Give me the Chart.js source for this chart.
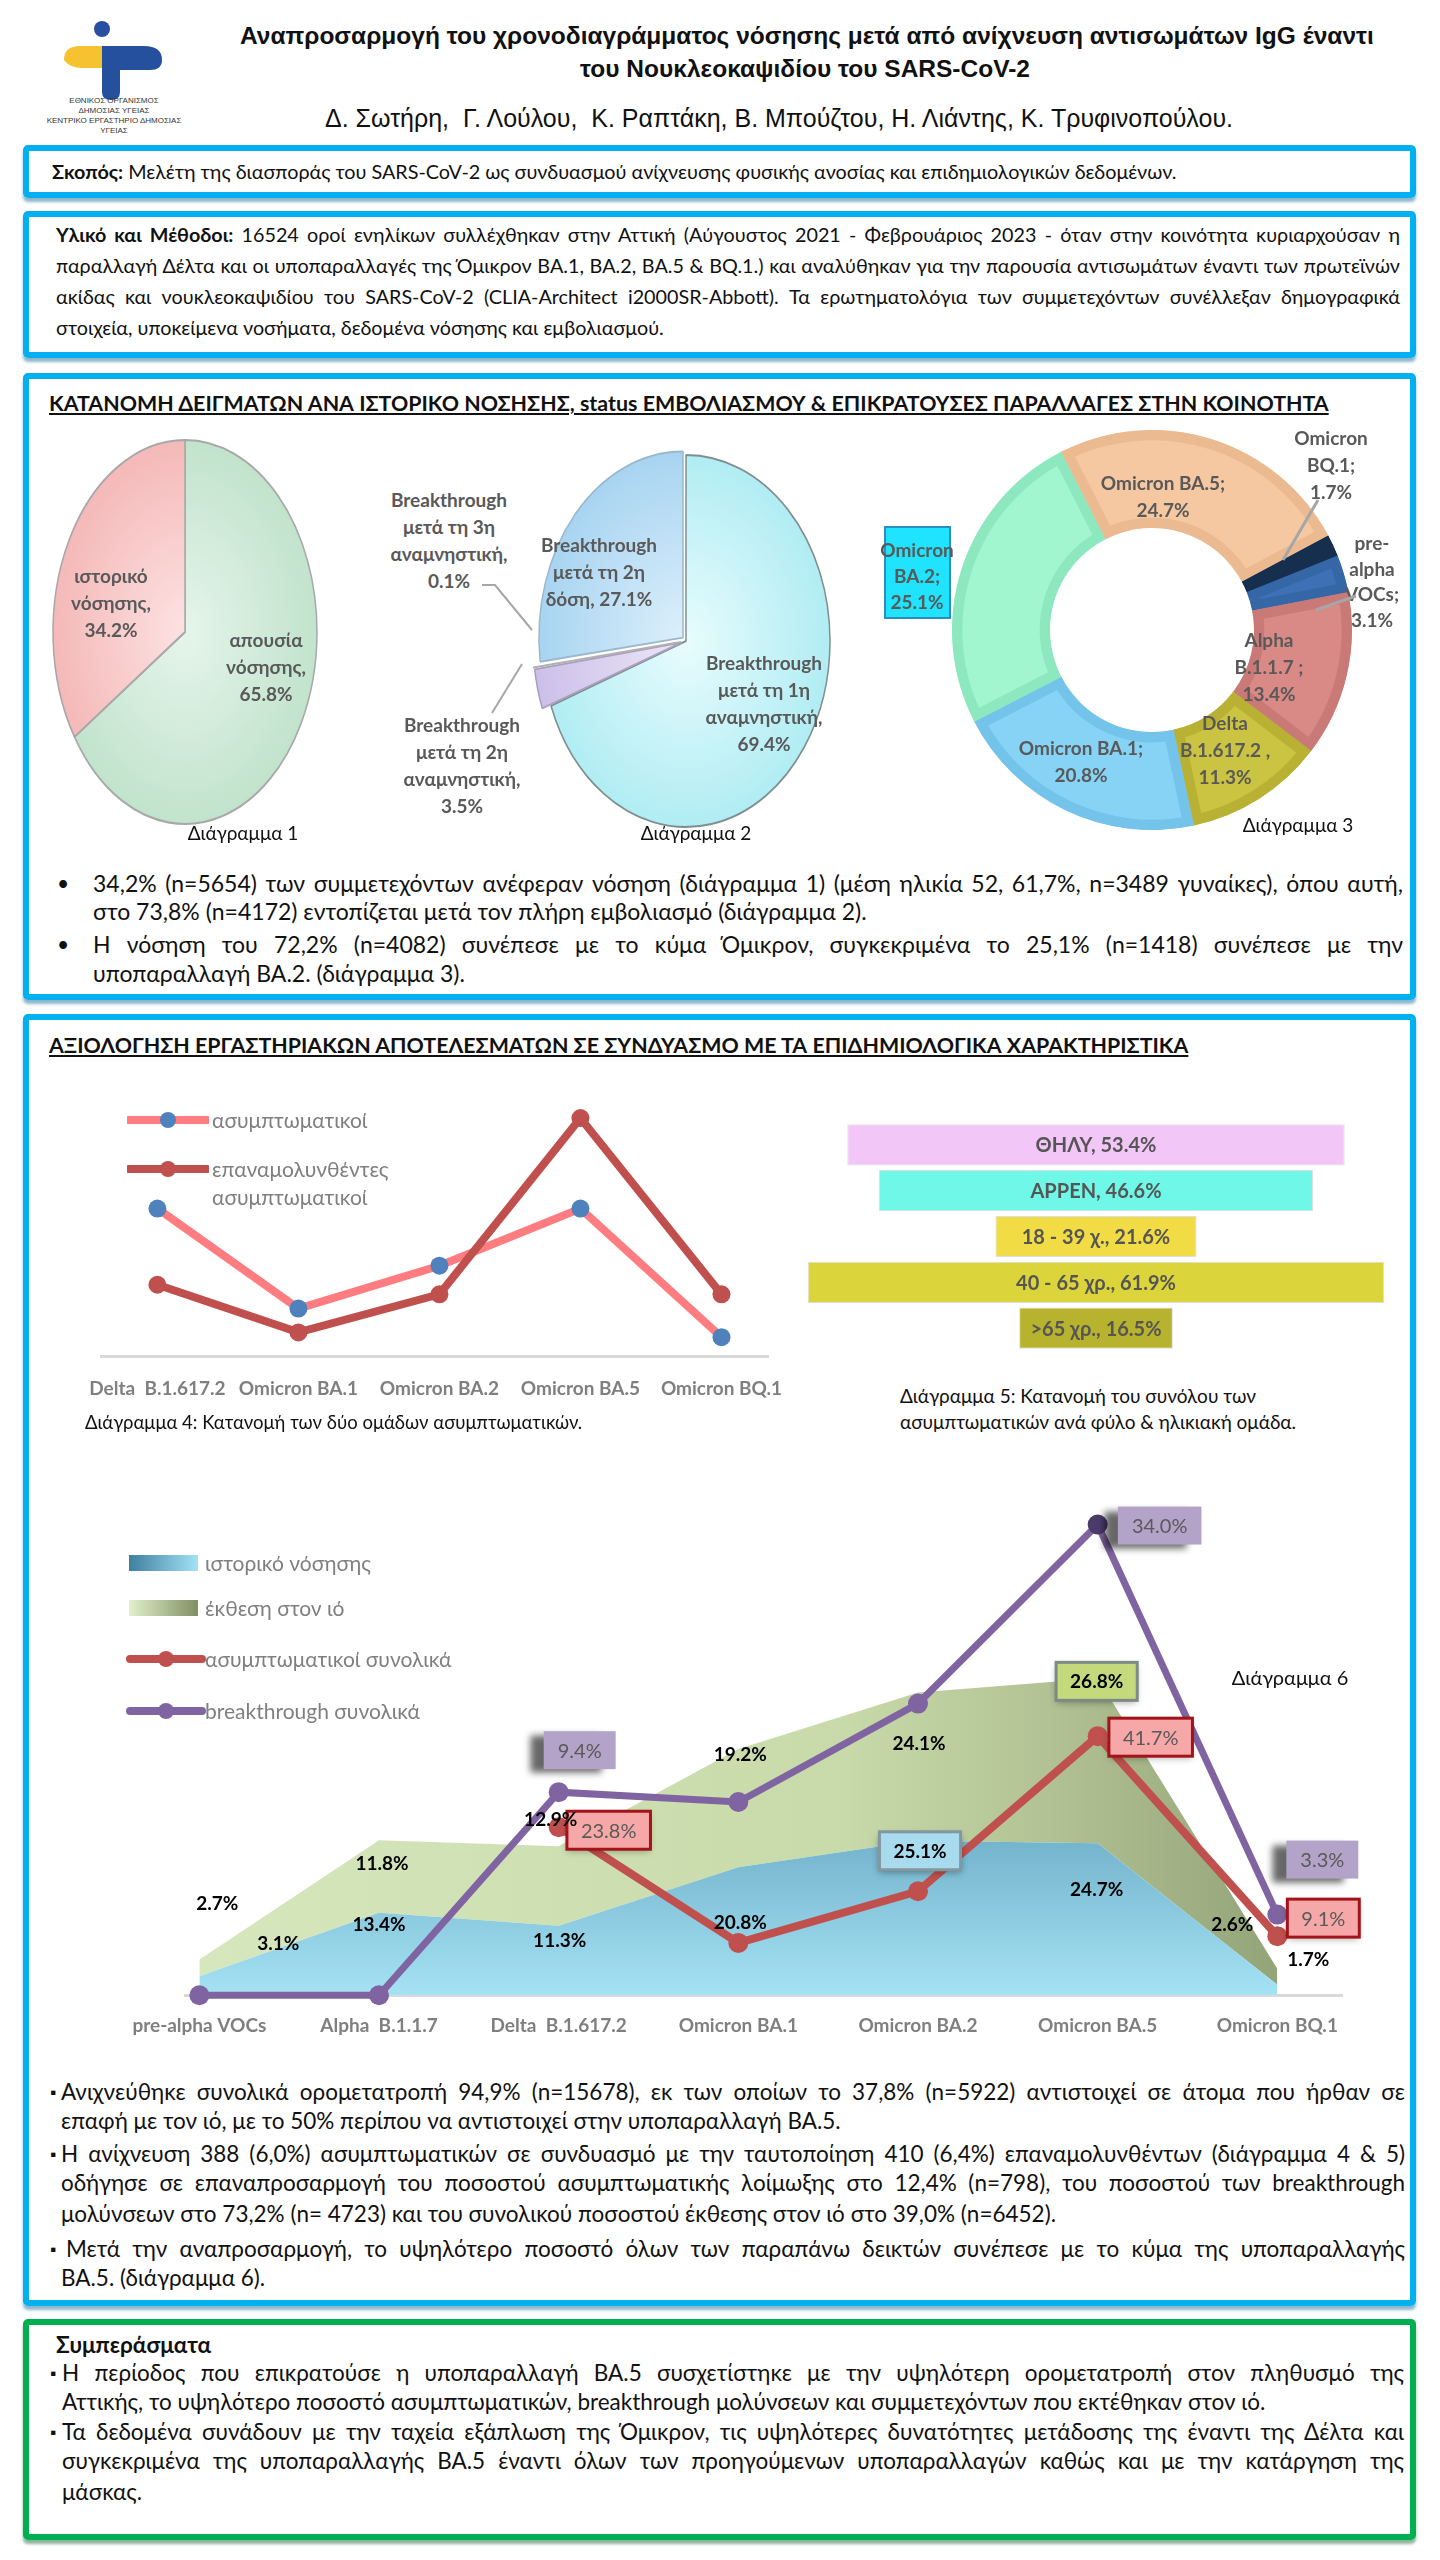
<!DOCTYPE html>
<html lang="el">
<head>
<meta charset="utf-8">
<title>Αναπροσαρμογή του χρονοδιαγράμματος νόσησης</title>
<script src="https://cdn.jsdelivr.net/npm/chart.js@4.4.1/dist/chart.umd.min.js"></script>
<style>
  html, body { margin: 0; padding: 0; background: #fff; }
  #poster { position: relative; width: 1440px; height: 2560px; overflow: hidden; font-family: Lato, Roboto, sans-serif; color: #111; }
  .abs { position: absolute; }
  canvas { position: absolute; }
  .box { position: absolute; left: 23px; width: 1393px; box-sizing: border-box; border: 6px solid #00b0f0; border-radius: 5px; box-shadow: 0 4px 3px rgba(0, 95, 140, .45); }
  .box.green { border-color: #00b050; box-shadow: 0 4px 3px rgba(0, 90, 40, .45); }
  .ln { position: absolute; font-size: 21px; line-height: 30px; height: 30px; white-space: normal; }
  .ln[data-g="b1"] { font-size: 19.8px; }
  .ln[data-g="b2"] { font-size: 20px; }
  .ln[data-g="b3"] { font-size: 23px; }
  .ln[data-g="b4"] { font-size: 22.5px; }
  .ln[data-g="b5"] { font-size: 22.5px; }
  .j { text-align: justify; text-align-last: justify; }
  .head { font-weight: bold; text-decoration: underline; font-size: 21.4px; white-space: nowrap; }
  .cap { position: absolute; font-size: 19px; line-height: 26px; color: #111; white-space: nowrap; }
  .lbl { position: absolute; transform: translateX(-50%); text-align: center; font-weight: bold; color: #595959; font-size: 19px; line-height: 27px; white-space: nowrap; }
  .lg { position: absolute; font-size: 21px; color: #7f7f7f; white-space: nowrap; line-height: 28px; }
  .title { position: absolute; font-family: "Liberation Sans", Arial, sans-serif; text-align: center; white-space: nowrap; }
  .dot { position: absolute; font-size: 21px; line-height: 30px; }
  .sq { position: absolute; font-size: 16px; line-height: 30px; }
</style>
</head>
<body>
<div id="poster">

  <!-- λογότυπο -->
  <svg class="abs" style="left:58px;top:18px" width="120" height="82" viewBox="0 0 120 82">
    <circle cx="44" cy="11" r="8" fill="#2a4fa1"/>
    <path d="M6 42 Q6 28 22 28 L44 28 L44 50 L24 50 Q12 50 6 42 Z" fill="#f5c230"/>
    <path d="M44 28 L86 28 Q104 28 104 42 Q104 52 92 52 L62 52 L62 74 Q62 82 53 82 Q44 82 44 74 Z" fill="#24509e"/>
  </svg>
  <div class="abs" style="left:44px;top:96px;width:140px;text-align:center;font:8px/10px 'Liberation Sans',sans-serif;color:#333;">ΕΘΝΙΚΟΣ ΟΡΓΑΝΙΣΜΟΣ<br>ΔΗΜΟΣΙΑΣ ΥΓΕΙΑΣ<br>ΚΕΝΤΡΙΚΟ ΕΡΓΑΣΤΗΡΙΟ ΔΗΜΟΣΙΑΣ ΥΓΕΙΑΣ</div>

  <div class="title" style="left:240px;top:22px;width:1130px;font-size:24.5px;font-weight:bold;line-height:28px;">Αναπροσαρμογή του χρονοδιαγράμματος νόσησης μετά από ανίχνευση αντισωμάτων IgG έναντι</div>
  <div class="title" style="left:240px;top:55px;width:1130px;font-size:24.5px;font-weight:bold;line-height:28px;">του Νουκλεοκαψιδίου του SARS-CoV-2</div>
  <div class="title" style="left:280px;top:104px;width:998px;font-size:25px;line-height:28px;">Δ. Σωτήρη,&nbsp; Γ. Λούλου,&nbsp; Κ. Ραπτάκη, Β. Μπούζτου, Η. Λιάντης, Κ. Τρυφινοπούλου.</div>

  <!-- Σκοπός -->
  <div class="box" style="top:145px;height:53px;"></div>
  <div class="ln" data-g="b1" style="left:52px;top:156px;width:1350px;"><b>Σκοπός:</b> Μελέτη της διασποράς του SARS-CoV-2 ως συνδυασμού ανίχνευσης φυσικής ανοσίας και επιδημιολογικών δεδομένων.</div>

  <!-- Υλικό και Μέθοδοι -->
  <div class="box" style="top:211px;height:147px;"></div>
  <div class="ln j" data-g="b2" style="left:56px;top:220px;width:1344px;"><b>Υλικό και Μέθοδοι:</b> 16524 οροί ενηλίκων συλλέχθηκαν στην Αττική (Αύγουστος 2021 - Φεβρουάριος 2023 - όταν στην κοινότητα κυριαρχούσαν η</div>
  <div class="ln j" data-g="b2" style="left:56px;top:251px;width:1344px;">παραλλαγή Δέλτα και οι υποπαραλλαγές της Όμικρον BA.1, BA.2, BA.5 &amp; BQ.1.) και αναλύθηκαν για την παρουσία αντισωμάτων έναντι των πρωτεϊνών</div>
  <div class="ln j" data-g="b2" style="left:56px;top:282px;width:1344px;">ακίδας και νουκλεοκαψιδίου του SARS-CoV-2 (CLIA-Architect i2000SR-Abbott). Τα ερωτηματολόγια των συμμετεχόντων συνέλλεξαν δημογραφικά</div>
  <div class="ln" data-g="b2" style="left:56px;top:313px;width:1344px;">στοιχεία, υποκείμενα νοσήματα, δεδομένα νόσησης και εμβολιασμού.</div>

  <!-- Κατανομή δειγμάτων -->
  <div class="box" style="top:373px;height:627px;"></div>
  <div class="ln head" style="left:49px;top:388px;">ΚΑΤΑΝΟΜΗ ΔΕΙΓΜΑΤΩΝ ΑΝΑ ΙΣΤΟΡΙΚΟ ΝΟΣΗΣΗΣ, status ΕΜΒΟΛΙΑΣΜΟΥ &amp; ΕΠΙΚΡΑΤΟΥΣΕΣ ΠΑΡΑΛΛΑΓΕΣ ΣΤΗΝ ΚΟΙΝΟΤΗΤΑ</div>

  <canvas id="pie1" width="300" height="410" style="left:35px;top:427px;"></canvas>
  <canvas id="pie2" width="350" height="430" style="left:511px;top:426px;"></canvas>
  <canvas id="donut" width="420" height="420" style="left:942px;top:420px;"></canvas>

  <svg class="abs" style="left:0;top:0;z-index:2" width="1440" height="1000">
    <polyline points="482,585 495,585 532,630" fill="none" stroke="#a6a6a6" stroke-width="2"/>
    <polyline points="492,713 522,664" fill="none" stroke="#a6a6a6" stroke-width="2"/>
    <polyline points="1318,500 1283,560" fill="none" stroke="#a6a6a6" stroke-width="3"/>
    <polyline points="1356,596 1316,610" fill="none" stroke="#a6a6a6" stroke-width="3"/>
  </svg>

  <div class="lbl" style="left:111px;top:562px;">ιστορικό<br>νόσησης,<br>34.2%</div>
  <div class="lbl" style="left:266px;top:626px;">απουσία<br>νόσησης,<br>65.8%</div>
  <div class="cap" style="left:243px;top:820px;transform:translateX(-50%);">Διάγραμμα 1</div>

  <div class="lbl" style="left:449px;top:486px;">Breakthrough<br>μετά τη 3η<br>αναμνηστική,<br>0.1%</div>
  <div class="lbl" style="left:599px;top:531px;">Breakthrough<br>μετά τη 2η<br>δόση, 27.1%</div>
  <div class="lbl" style="left:764px;top:649px;">Breakthrough<br>μετά τη 1η<br>αναμνηστική,<br>69.4%</div>
  <div class="lbl" style="left:462px;top:711px;">Breakthrough<br>μετά τη 2η<br>αναμνηστική,<br>3.5%</div>
  <div class="cap" style="left:696px;top:820px;transform:translateX(-50%);">Διάγραμμα 2</div>

  <div class="lbl" style="left:1163px;top:469px;">Omicron BA.5;<br>24.7%</div>
  <div class="lbl" style="left:1331px;top:424px;">Omicron<br>BQ.1;<br>1.7%</div>
  <div class="lbl" style="left:1372px;top:530px;line-height:25.5px;">pre-<br>alpha<br>VOCs;<br>3.1%</div>
  <div class="lbl" style="left:1269px;top:626px;">Alpha<br>B.1.1.7 ;<br>13.4%</div>
  <div class="lbl" style="left:1225px;top:709px;">Delta<br>B.1.617.2 ,<br>11.3%</div>
  <div class="lbl" style="left:1081px;top:734px;">Omicron BA.1;<br>20.8%</div>
  <div class="abs" style="left:884px;top:526px;width:67px;height:93px;box-sizing:border-box;background:#1fe3ff;border:2px solid #2a8fc0;"></div>
  <div class="lbl" style="left:917px;top:537px;line-height:26px;">Omicron<br>BA.2;<br>25.1%</div>
  <div class="cap" style="left:1298px;top:812px;transform:translateX(-50%);">Διάγραμμα 3</div>

  <div class="dot" style="left:57px;top:868px;">•</div>
  <div class="ln j" data-g="b3" style="left:93px;top:868px;width:1310px;">34,2% (n=5654) των συμμετεχόντων ανέφεραν νόσηση (διάγραμμα 1) (μέση ηλικία 52, 61,7%, n=3489 γυναίκες), όπου αυτή,</div>
  <div class="ln" data-g="b3" style="left:93px;top:896px;width:1310px;">στο 73,8% (n=4172) εντοπίζεται μετά τον πλήρη εμβολιασμό (διάγραμμα 2).</div>
  <div class="dot" style="left:57px;top:929px;">•</div>
  <div class="ln j" data-g="b3" style="left:93px;top:929px;width:1310px;">Η νόσηση του 72,2% (n=4082) συνέπεσε με το κύμα Όμικρον, συγκεκριμένα το 25,1% (n=1418) συνέπεσε με την</div>
  <div class="ln" data-g="b3" style="left:93px;top:958px;width:1310px;">υποπαραλλαγή ΒΑ.2. (διάγραμμα 3).</div>

  <!-- Αξιολόγηση -->
  <div class="box" style="top:1014px;height:1292px;"></div>
  <div class="ln head" style="left:49px;top:1030px;">ΑΞΙΟΛΟΓΗΣΗ ΕΡΓΑΣΤΗΡΙΑΚΩΝ ΑΠΟΤΕΛΕΣΜΑΤΩΝ ΣΕ ΣΥΝΔΥΑΣΜΟ ΜΕ ΤΑ ΕΠΙΔΗΜΙΟΛΟΓΙΚΑ ΧΑΡΑΚΤΗΡΙΣΤΙΚΑ</div>

  <canvas id="d4" width="807" height="331" style="left:31px;top:1090px;"></canvas>
  <svg class="abs" style="left:127px;top:1105px" width="82" height="80">
    <line x1="2" y1="15" x2="80" y2="15" stroke="#ff7c80" stroke-width="8" stroke-linecap="round"/>
    <circle cx="41" cy="15" r="8" fill="#4f81bd"/>
    <line x1="2" y1="64" x2="80" y2="64" stroke="#c0504d" stroke-width="8" stroke-linecap="round"/>
    <circle cx="41" cy="64" r="8" fill="#c0504d"/>
  </svg>
  <div class="lg" style="left:212px;top:1106px;">ασυμπτωματικοί</div>
  <div class="lg" style="left:212px;top:1155px;">επαναμολυνθέντες<br>ασυμπτωματικοί</div>
  <div class="cap" style="left:85px;top:1409px;font-size:18.5px;">Διάγραμμα 4: Κατανομή των δύο ομάδων ασυμπτωματικών.</div>

  <canvas id="d5" width="652" height="229" style="left:770px;top:1122px;"></canvas>
  <div class="cap" style="left:900px;top:1383px;">Διάγραμμα 5: Κατανομή του συνόλου των<br>ασυμπτωματικών ανά φύλο &amp; ηλικιακή ομάδα.</div>

  <canvas id="d6" width="1337" height="563" style="left:95px;top:1493px;"></canvas>
  <div class="abs" style="left:129px;top:1555px;width:69px;height:16px;background:linear-gradient(90deg,#3f7f9f,#a3e3f6);"></div>
  <div class="abs" style="left:129px;top:1600px;width:69px;height:16px;background:linear-gradient(90deg,#e1f0cc,#7f9062);"></div>
  <svg class="abs" style="left:126px;top:1645px" width="80" height="80">
    <line x1="4" y1="14" x2="76" y2="14" stroke="#c0504d" stroke-width="8" stroke-linecap="round"/>
    <circle cx="40" cy="14" r="8" fill="#c0504d"/>
    <line x1="4" y1="66" x2="76" y2="66" stroke="#8064a2" stroke-width="8" stroke-linecap="round"/>
    <circle cx="40" cy="66" r="8" fill="#8064a2"/>
  </svg>
  <div class="lg" style="left:205px;top:1549px;">ιστορικό νόσησης</div>
  <div class="lg" style="left:205px;top:1594px;">έκθεση στον ιό</div>
  <div class="lg" style="left:205px;top:1645px;">ασυμπτωματικοί συνολικά</div>
  <div class="lg" style="left:205px;top:1697px;">breakthrough συνολικά</div>
  <div class="cap" style="left:1290px;top:1664px;transform:translateX(-50%);font-size:20px;">Διάγραμμα 6</div>

  <div class="sq" style="left:50px;top:2077px;">▪</div>
  <div class="ln j" data-g="b4" style="left:61px;top:2077px;width:1344px;">Ανιχνεύθηκε συνολικά ορομετατροπή 94,9% (n=15678), εκ των οποίων το 37,8% (n=5922) αντιστοιχεί σε άτομα που ήρθαν σε</div>
  <div class="ln" data-g="b4" style="left:61px;top:2106px;width:1344px;">επαφή με τον ιό, με το 50% περίπου να αντιστοιχεί στην υποπαραλλαγή ΒΑ.5.</div>
  <div class="sq" style="left:50px;top:2139px;">▪</div>
  <div class="ln j" data-g="b4" style="left:61px;top:2139px;width:1344px;">Η ανίχνευση 388 (6,0%) ασυμπτωματικών σε συνδυασμό με την ταυτοποίηση 410 (6,4%) επαναμολυνθέντων (διάγραμμα 4 &amp; 5)</div>
  <div class="ln j" data-g="b4" style="left:61px;top:2168px;width:1344px;">οδήγησε σε επαναπροσαρμογή του ποσοστού ασυμπτωματικής λοίμωξης στο 12,4% (n=798), του ποσοστού των breakthrough</div>
  <div class="ln" data-g="b4" style="left:61px;top:2199px;width:1344px;">μολύνσεων στο 73,2% (n= 4723) και του συνολικού ποσοστού έκθεσης στον ιό στο 39,0% (n=6452).</div>
  <div class="sq" style="left:50px;top:2234px;">▪</div>
  <div class="ln j" data-g="b4" style="left:66px;top:2234px;width:1339px;">Μετά την αναπροσαρμογή, το υψηλότερο ποσοστό όλων των παραπάνω δεικτών συνέπεσε με το κύμα της υποπαραλλαγής</div>
  <div class="ln" data-g="b4" style="left:61px;top:2263px;width:1344px;">ΒΑ.5. (διάγραμμα 6).</div>

  <!-- Συμπεράσματα -->
  <div class="box green" style="top:2319px;height:221px;"></div>
  <div class="ln" data-g="b5" style="left:56px;top:2330px;font-weight:bold;">Συμπεράσματα</div>
  <div class="sq" style="left:50px;top:2358px;">▪</div>
  <div class="ln j" data-g="b5" style="left:62px;top:2358px;width:1342px;">Η περίοδος που επικρατούσε η υποπαραλλαγή ΒΑ.5 συσχετίστηκε με την υψηλότερη ορομετατροπή στον πληθυσμό της</div>
  <div class="ln" data-g="b5" style="left:62px;top:2387px;width:1342px;">Αττικής, το υψηλότερο ποσοστό ασυμπτωματικών, breakthrough μολύνσεων και συμμετεχόντων που εκτέθηκαν στον ιό.</div>
  <div class="sq" style="left:50px;top:2417px;">▪</div>
  <div class="ln j" data-g="b5" style="left:62px;top:2417px;width:1342px;">Τα δεδομένα συνάδουν με την ταχεία εξάπλωση της Όμικρον, τις υψηλότερες δυνατότητες μετάδοσης της έναντι της Δέλτα και</div>
  <div class="ln j" data-g="b5" style="left:62px;top:2446px;width:1342px;">συγκεκριμένα της υποπαραλλαγής ΒΑ.5 έναντι όλων των προηγούμενων υποπαραλλαγών καθώς και με την κατάργηση της</div>
  <div class="ln" data-g="b5" style="left:62px;top:2477px;width:1342px;">μάσκας.</div>
</div>

<script>
// Διάγραμμα 1: ιστορικό νόσησης
const pie1Labels = ['απουσία νόσησης', 'ιστορικό νόσησης'];
const pie1Values = [65.8, 34.2];

// Διάγραμμα 2: breakthrough ανά δόση
const pie2Labels = ['Breakthrough μετά τη 1η αναμνηστική', 'Breakthrough μετά τη 2η αναμνηστική', 'Breakthrough μετά τη 3η αναμνηστική', 'Breakthrough μετά τη 2η δόση'];
const pie2Values = [69.4, 3.5, 0.1, 27.1];

// Διάγραμμα 3: επικρατούσες παραλλαγές
const variantLabels = ['pre-alpha VOCs', 'Alpha B.1.1.7', 'Delta B.1.617.2', 'Omicron BA.1', 'Omicron BA.2', 'Omicron BA.5', 'Omicron BQ.1'];
const variantShares = [3.1, 13.4, 11.3, 20.8, 25.1, 24.7, 1.7];

// Διάγραμμα 4: ομάδες ασυμπτωματικών
const d4Cats = ['Delta  B.1.617.2', 'Omicron BA.1', 'Omicron BA.2', 'Omicron BA.5', 'Omicron BQ.1'];
const asymptomatic = [31, 10, 19, 31, 4];
const reinfected = [15, 5, 13, 50, 13];

// Διάγραμμα 5: φύλο & ηλικία
const groupLabels = ['ΘΗΛΥ', 'ΑΡΡΕΝ', '18 - 39 χ.', '40 - 65 χρ.', '>65 χρ.'];
const groupValues = [53.4, 46.6, 21.6, 61.9, 16.5];

// Διάγραμμα 6
const d6Cats = ['pre-alpha VOCs', 'Alpha  B.1.1.7', 'Delta  B.1.617.2', 'Omicron BA.1', 'Omicron BA.2', 'Omicron BA.5', 'Omicron BQ.1'];
const historyValues = [3.1, 13.4, 11.3, 20.8, 25.1, 24.7, 1.7];
const exposureValues = [2.7, 11.8, 12.9, 19.2, 24.1, 26.8, 2.6];
const asymTotal = [null, null, 27.3, 8.5, 16.9, 42.1, 9.6];
const breakthroughTotal = [0, 0, 33, 31.4, 47.4, 76.5, 13.1];
const asymTags = [null, null, '23.8%', null, null, '41.7%', '9.1%'];
const breakthroughTags = [null, null, '9.4%', null, null, '34.0%', '3.3%'];

const FONT = 'Lato, Roboto, sans-serif';
Chart.defaults.font.family = FONT;
Chart.defaults.animation = false;
Chart.defaults.responsive = false;
Chart.defaults.events = [];
Chart.defaults.plugins.legend.display = false;
Chart.defaults.plugins.tooltip.enabled = false;

// κάθε μπλοκ κειμένου: ίδιο μέγεθος, κάθε γραμμή σε μία σειρά
const groups = {};
document.querySelectorAll('.ln[data-g]').forEach(el => {
  (groups[el.dataset.g] = groups[el.dataset.g] || []).push(el);
});
Object.values(groups).forEach(list => {
  let fs = parseFloat(getComputedStyle(list[0]).fontSize);
  const over = () => list.some(el => el.scrollHeight > 34);
  while (over() && fs > 12) {
    fs -= 0.25;
    list.forEach(el => { el.style.fontSize = fs + 'px'; });
  }
});

const toXY = arr => arr.map((v, i) => ({ x: i, y: v }));
const pct = v => v.toFixed(1) + '%';

// πίτες σε έλλειψη
function squash(ratio) {
  return {
    id: 'squash',
    beforeDatasetsDraw(chart) {
      const a = chart.chartArea, ctx = chart.ctx;
      const cx = (a.left + a.right) / 2, cy = (a.top + a.bottom) / 2;
      ctx.save();
      ctx.translate(cx, cy);
      ctx.scale(1, ratio);
      ctx.translate(-cx, -cy);
    },
    afterDatasetsDraw(chart) { chart.ctx.restore(); }
  };
}

function radial(chart, inner, outer, r) {
  const a = chart.chartArea;
  if (!a) return outer;
  const cx = (a.left + a.right) / 2, cy = (a.top + a.bottom) / 2;
  const g = chart.ctx.createRadialGradient(cx, cy, 0, cx, cy, r);
  g.addColorStop(0, inner);
  g.addColorStop(1, outer);
  return g;
}

const pie1Colors = [['#e6f5eb', '#bfe2ca'], ['#fde2e2', '#f4b6b6']];
new Chart(document.getElementById('pie1'), {
  type: 'pie',
  data: {
    labels: pie1Labels,
    datasets: [{
      data: pie1Values,
      radius: 132,
      clip: false,
      backgroundColor: c => radial(c.chart, pie1Colors[c.dataIndex][0], pie1Colors[c.dataIndex][1], 140),
      borderColor: '#a8a8a8',
      borderWidth: 1.5
    }]
  },
  plugins: [squash(192 / 132)]
});

const pie2Colors = [['#e8fcfd', '#aeecf3'], ['#ece6f7', '#cbbfe8'], ['#ffffff', '#eeeeee'], ['#dceffb', '#a6d3f1']];
new Chart(document.getElementById('pie2'), {
  type: 'pie',
  data: {
    labels: pie2Labels,
    datasets: [{
      data: pie2Values,
      radius: 144,
      offset: [0, 20, 20, 16],
      clip: false,
      backgroundColor: c => radial(c.chart, pie2Colors[c.dataIndex][0], pie2Colors[c.dataIndex][1], 150),
      borderColor: ['#7f8f90', '#a9a0c0', '#b0b0b0', '#9ab8cc'],
      borderWidth: 1.5
    }]
  },
  plugins: [squash(186 / 144)]
});

new Chart(document.getElementById('donut'), {
  type: 'doughnut',
  data: {
    labels: variantLabels,
    datasets: [{
      data: variantShares,
      radius: 200,
      cutout: '51%',
      rotation: 68,
      backgroundColor: ['#3d70b4', '#d98a86', '#cbc342', '#87d3f6', '#a1f6cf', '#f6c8a2', '#1d3a60'],
      borderColor: ['#3566a6', '#c97a76', '#b9b134', '#74c3ea', '#8de8bf', '#ecba91', '#162f4f'],
      borderWidth: 10,
      borderAlign: 'inner'
    }]
  }
});

// Διάγραμμα 4
new Chart(document.getElementById('d4'), {
  type: 'line',
  data: {
    datasets: [
      { label: 'επαναμολυνθέντες ασυμπτωματικοί', data: toXY(reinfected), borderColor: '#c0504d', borderWidth: 8,
        pointRadius: 9, pointBackgroundColor: '#c0504d', pointBorderWidth: 0, clip: false, order: 0 },
      { label: 'ασυμπτωματικοί', data: toXY(asymptomatic), borderColor: '#ff7c80', borderWidth: 8,
        pointRadius: 9, pointBackgroundColor: '#4f81bd', pointBorderWidth: 0, clip: false, order: 1 }
    ]
  },
  options: {
    layout: { padding: { left: 70, right: 70, top: 0, bottom: 0 } },
    scales: {
      x: {
        type: 'linear', min: -0.4, max: 4.33, bounds: 'data',
        grid: { display: false, drawTicks: false },
        border: { display: true, color: '#d9d9d9', width: 3 },
        afterBuildTicks: s => { s.ticks = d4Cats.map((_, i) => ({ value: i })); },
        ticks: { padding: 21, color: '#7f7f7f', font: { size: 19, weight: 'bold' }, autoSkip: false, maxRotation: 0, callback: v => d4Cats[v] }
      },
      y: { display: false, min: 0, max: 54 }
    }
  }
});

// Διάγραμμα 5
const groupColors = ['#f3c6f8', '#6ff7e8', '#f2dc45', '#dcd43b', '#b8b32e'];
const funnelText = {
  id: 'funnelText',
  afterDatasetsDraw(chart) {
    const ctx = chart.ctx;
    const meta = chart.getDatasetMeta(0);
    ctx.save();
    ctx.font = 'bold 20px ' + FONT;
    ctx.fillStyle = '#555';
    ctx.textAlign = 'center';
    ctx.textBaseline = 'middle';
    meta.data.forEach((bar, i) => {
      const p = bar.getCenterPoint();
      ctx.fillText(groupLabels[i] + ', ' + pct(groupValues[i]), p.x, p.y + 1);
    });
    ctx.restore();
  }
};
new Chart(document.getElementById('d5'), {
  type: 'bar',
  data: {
    labels: groupLabels,
    datasets: [{
      data: groupValues.map(v => [-v / 2, v / 2]),
      backgroundColor: groupColors,
      borderColor: 'rgba(0,0,0,0.13)',
      borderWidth: 1,
      borderSkipped: false,
      barPercentage: 0.9,
      categoryPercentage: 1
    }]
  },
  options: {
    indexAxis: 'y',
    scales: { x: { display: false, min: -35, max: 35 }, y: { display: false } }
  },
  plugins: [funnelText]
});

// Διάγραμμα 6: ετικέτες τιμών
const tagStyles = {
  plain: { font: 'bold 19px ' + FONT, color: '#000' },
  blue: { font: 'bold 19px ' + FONT, color: '#000', fill: '#a9dbef', stroke: '#8397a0', line: 3, shadow: 'rgba(0,0,0,.35)', sx: 0, sy: 3 },
  green: { font: 'bold 19px ' + FONT, color: '#000', fill: '#c4d97b', stroke: '#7d8a86', line: 3, shadow: 'rgba(0,0,0,.35)', sx: 0, sy: 3 },
  purple: { font: '20px ' + FONT, color: '#595959', fill: '#b4a3c8', shadow: 'rgba(0,0,0,.6)', sx: -14, sy: 4 },
  red: { font: '20px ' + FONT, color: '#595959', fill: '#f6a8a8', stroke: '#a3131a', line: 3, shadow: 'rgba(0,0,0,.3)', sx: 0, sy: 3 }
};
const tagShift = {
  history: [[79, -33], [0, 11], [1, 14], [2, 55], [2, 10], [-1, 46], [31, -26]],
  exposure: [[18, -57], [3, 23], [-8, -27], [2, 5], [1, 50], [-1, 3], [-45, -45]],
  asym: [null, null, [50, 3], null, null, [53, 1], [46, -18]],
  breakthrough: [null, null, [21, -42], null, null, [62, 1], [45, -55]]
};
function drawTag(ctx, st, txt, x, y) {
  ctx.save();
  ctx.font = st.font;
  if (st.fill) {
    const w = ctx.measureText(txt).width + 28, h = 38;
    ctx.save();
    ctx.shadowColor = st.shadow;
    ctx.shadowBlur = 7;
    ctx.shadowOffsetX = st.sx;
    ctx.shadowOffsetY = st.sy;
    ctx.fillStyle = st.fill;
    ctx.fillRect(x - w / 2, y - h / 2, w, h);
    ctx.restore();
    if (st.stroke) {
      ctx.strokeStyle = st.stroke;
      ctx.lineWidth = st.line;
      ctx.strokeRect(x - w / 2, y - h / 2, w, h);
    }
  }
  ctx.fillStyle = st.color;
  ctx.textAlign = 'center';
  ctx.textBaseline = 'middle';
  ctx.fillText(txt, x, y + 1);
  ctx.restore();
}
const tagPlugin = {
  id: 'tags',
  afterDatasetsDraw(chart) {
    // boxed tags first, plain numbers on top
    ['boxed', 'plain'].forEach(pass => {
      chart.data.datasets.forEach((ds, di) => {
        if (!ds.tags) return;
        const meta = chart.getDatasetMeta(di);
        ds.tags.forEach((txt, i) => {
          if (txt == null) return;
          const st = tagStyles[ds.tagStyle[i]];
          if ((pass === 'plain') !== !st.fill) return;
          const pt = meta.data[i];
          const [dx, dy] = tagShift[ds.tagKey][i];
          drawTag(chart.ctx, st, txt, pt.x + dx, pt.y + dy);
        });
      });
    });
  }
};

function blueFill(c) {
  const { chart } = c;
  if (!chart.chartArea) return '#8fcbe0';
  const y = chart.scales.y;
  const g = chart.ctx.createLinearGradient(0, y.getPixelForValue(26), 0, y.getPixelForValue(0));
  g.addColorStop(0, '#72b2cb');
  g.addColorStop(1, '#a5e2f4');
  return g;
}
function greenFill(c) {
  const { chart } = c;
  if (!chart.chartArea) return '#c9dcab';
  const x = chart.scales.x;
  const g = chart.ctx.createLinearGradient(x.getPixelForValue(0), 0, x.getPixelForValue(6), 0);
  g.addColorStop(0, '#d6e7bd');
  g.addColorStop(0.6, '#c8daa9');
  g.addColorStop(0.8, '#b0c092');
  g.addColorStop(1, '#93a479');
  return g;
}

new Chart(document.getElementById('d6'), {
  type: 'line',
  data: {
    datasets: [
      { label: 'ιστορικό νόσησης', data: toXY(historyValues), stack: 'area', fill: 'origin', backgroundColor: blueFill,
        borderWidth: 0, pointRadius: 0, order: 3,
        tags: historyValues.map(pct), tagKey: 'history', tagStyle: ['plain', 'plain', 'plain', 'plain', 'blue', 'plain', 'plain'] },
      { label: 'έκθεση στον ιό', data: toXY(exposureValues), stack: 'area', fill: '-1', backgroundColor: greenFill,
        borderWidth: 0, pointRadius: 0, order: 4,
        tags: exposureValues.map(pct), tagKey: 'exposure', tagStyle: ['plain', 'plain', 'plain', 'plain', 'plain', 'green', 'plain'] },
      { label: 'ασυμπτωματικοί συνολικά', data: toXY(asymTotal), stack: 'r', fill: false, borderColor: '#c0504d', borderWidth: 8,
        pointRadius: 10, pointBackgroundColor: '#c0504d', pointBorderWidth: 0, clip: false, order: 1,
        tags: asymTags, tagKey: 'asym', tagStyle: asymTags.map(() => 'red') },
      { label: 'breakthrough συνολικά', data: toXY(breakthroughTotal), stack: 'p', fill: false, borderColor: '#8064a2', borderWidth: 7,
        pointRadius: 10, pointBackgroundColor: ['#8064a2', '#8064a2', '#8064a2', '#8064a2', '#8064a2', '#4b3b6b', '#8064a2'],
        pointBorderWidth: 0, clip: false, order: 0,
        tags: breakthroughTags, tagKey: 'breakthrough', tagStyle: breakthroughTags.map(() => 'purple') }
    ]
  },
  options: {
    layout: { padding: { left: 90, right: 90, top: 0, bottom: 0 } },
    scales: {
      x: {
        type: 'linear', min: -0.08, max: 6.36, bounds: 'data',
        grid: { display: false, drawTicks: false },
        border: { display: true, color: '#d9d9d9', width: 3 },
        afterBuildTicks: s => { s.ticks = d6Cats.map((_, i) => ({ value: i })); },
        ticks: { padding: 19, color: '#7f7f7f', font: { size: 19, weight: 'bold' }, autoSkip: false, maxRotation: 0, callback: v => d6Cats[v] }
      },
      y: { display: false, stacked: true, min: 0, max: 80 }
    }
  },
  plugins: [tagPlugin]
});
</script>
</body>
</html>
